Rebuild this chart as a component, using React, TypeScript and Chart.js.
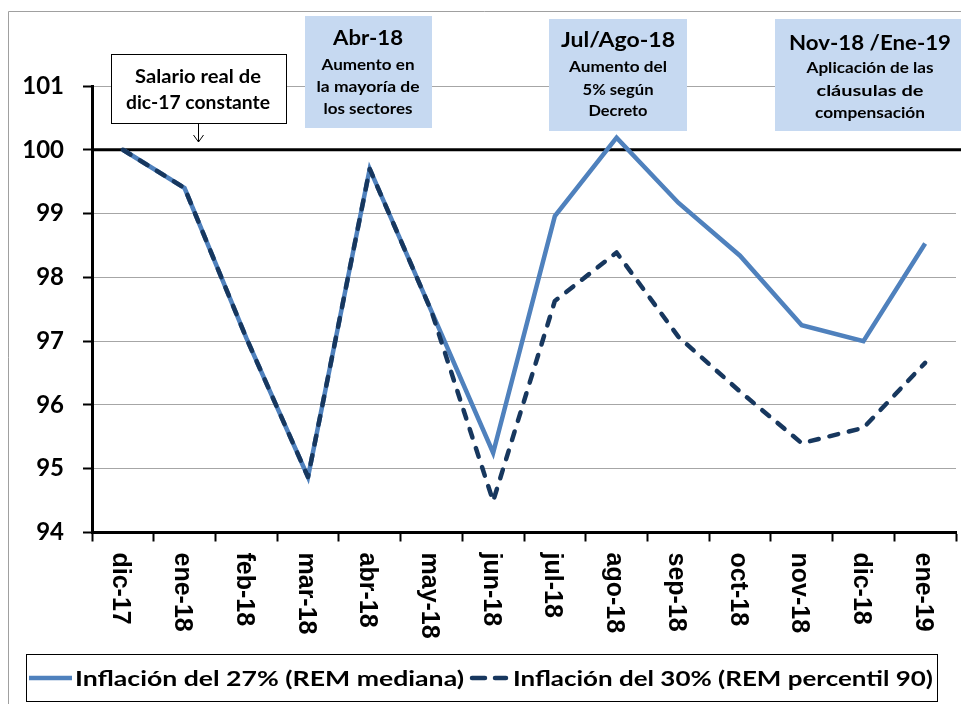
import React, { useEffect, useRef } from "react";
import { Chart, registerables } from "chart.js";

Chart.register(...registerables);

const categories = [
  "dic-17", "ene-18", "feb-18", "mar-18", "abr-18", "may-18", "jun-18",
  "jul-18", "ago-18", "sep-18", "oct-18", "nov-18", "dic-18", "ene-19",
];
const inflacion27 = [100.0, 99.4, 97.05, 94.87, 99.7, 97.47, 95.25, 98.96, 100.19, 99.17, 98.34, 97.25, 97.0, 98.53];
const inflacion30 = [100.0, 99.4, 97.05, 94.87, 99.7, 97.47, 94.49, 97.63, 98.39, 97.07, 96.21, 95.4, 95.64, 96.66];
const seriesLabels = ["Inflación del 27% (REM mediana)", "Inflación del 30% (REM percentil 90)"];
const yMin = 94;
const yMax = 101;
const yStep = 1;
const referenceLevel = 100;

const SOLID = "#4F81BD";
const NAVY = "#17375E";
const BOX = "#C6D9F1";
const CAL = "Lato, 'Open Sans', sans-serif";

function fitText(ctx: CanvasRenderingContext2D, text: string, x: number, y: number, size: number, width: number, align: "center" | "left" = "center") {
  ctx.save();
  ctx.font = `bold ${size}px ${CAL}`;
  ctx.fillStyle = "#000";
  ctx.textBaseline = "middle";
  ctx.textAlign = align;
  const w = ctx.measureText(text).width;
  const sx = width / w;
  ctx.translate(x, y);
  ctx.scale(sx, 1);
  ctx.fillText(text, 0, 0);
  ctx.restore();
}

const decorPlugin = {
  id: "decor",
  beforeDraw(chart: any) {
    const ctx = chart.ctx as CanvasRenderingContext2D;
    ctx.save();
    ctx.strokeStyle = "#A0A0A0";
    ctx.lineWidth = 1;
    ctx.beginPath();
    ctx.moveTo(8.5, 704);
    ctx.lineTo(8.5, 11.5);
    ctx.lineTo(961, 11.5);
    ctx.stroke();
    ctx.restore();
  },
  beforeDatasetsDraw(chart: any) {
    const ctx = chart.ctx as CanvasRenderingContext2D;
    const y = chart.scales.y.getPixelForValue(referenceLevel);
    ctx.save();
    ctx.strokeStyle = "#000";
    ctx.lineWidth = 3;
    ctx.beginPath();
    ctx.moveTo(chart.chartArea.left, y);
    ctx.lineTo(961, y);
    ctx.stroke();
    ctx.restore();
  },
  afterDraw(chart: any) {
    const ctx = chart.ctx as CanvasRenderingContext2D;
    const xs = chart.scales.x;
    // rotated category labels (clockwise, reading top to bottom)
    ctx.save();
    ctx.font = "bold 25px 'Liberation Sans', Arial, sans-serif";
    ctx.fillStyle = "#000";
    ctx.textAlign = "left";
    ctx.textBaseline = "alphabetic";
    categories.forEach((c, i) => {
      const x = xs.getPixelForValue(i);
      ctx.save();
      ctx.translate(x - 9.5, chart.chartArea.bottom + 20);
      ctx.rotate(Math.PI / 2);
      ctx.fillText(c, 0, 0);
      ctx.restore();
    });
    ctx.restore();

    // annotation 1
    ctx.save();
    ctx.fillStyle = "#fff";
    ctx.fillRect(111, 54, 175, 69);
    ctx.strokeStyle = "#000";
    ctx.lineWidth = 1;
    ctx.strokeRect(111.5, 54.5, 175, 69);
    ctx.beginPath();
    ctx.moveTo(198.5, 124);
    ctx.lineTo(198.5, 142);
    ctx.moveTo(193.5, 135);
    ctx.lineTo(198.5, 142);
    ctx.lineTo(203.5, 135);
    ctx.stroke();
    ctx.restore();
    fitText(ctx, "Salario real de", 198, 77, 18, 126);
    fitText(ctx, "dic-17 constante", 198, 103, 18, 144);

    // blue boxes
    ctx.save();
    ctx.fillStyle = BOX;
    ctx.fillRect(305, 16, 127, 112);
    ctx.fillRect(549, 19, 138, 112);
    ctx.fillRect(775, 19, 186, 112);
    ctx.restore();

    fitText(ctx, "Abr-18", 368, 38, 21, 70);
    fitText(ctx, "Aumento en", 368, 65, 15, 93);
    fitText(ctx, "la mayoría de", 368, 87, 15, 103);
    fitText(ctx, "los sectores", 368, 109, 15, 89);

    fitText(ctx, "Jul/Ago-18", 618, 40, 21, 114);
    fitText(ctx, "Aumento del", 618, 67, 15, 98);
    fitText(ctx, "5% según", 618, 90, 15, 71);
    fitText(ctx, "Decreto", 618, 111, 15, 59);

    fitText(ctx, "Nov-18 /Ene-19", 870, 43, 21, 162);
    fitText(ctx, "Aplicación de las", 870, 68, 15, 127);
    fitText(ctx, "cláusulas de", 870, 91, 15, 107);
    fitText(ctx, "compensación", 870, 113, 15, 110);

    // legend
    ctx.save();
    ctx.fillStyle = "#fff";
    ctx.fillRect(26, 654, 911, 47);
    ctx.strokeStyle = "#000";
    ctx.lineWidth = 1;
    ctx.strokeRect(26.5, 654.5, 911, 47);
    ctx.strokeStyle = SOLID;
    ctx.lineWidth = 4.5;
    ctx.beginPath();
    ctx.moveTo(29, 678);
    ctx.lineTo(72, 678);
    ctx.stroke();
    ctx.strokeStyle = NAVY;
    ctx.lineCap = "round";
    ctx.setLineDash([13, 10]);
    ctx.beginPath();
    ctx.moveTo(472, 678);
    ctx.lineTo(506, 678);
    ctx.stroke();
    ctx.restore();
    fitText(ctx, seriesLabels[0], 75, 679, 21, 389, "left");
    fitText(ctx, seriesLabels[1], 513, 679, 21, 420, "left");
  },
};

export default function App() {
  const ref = useRef<HTMLCanvasElement | null>(null);
  useEffect(() => {
    if (!ref.current) return;
    const chart = new Chart(ref.current, {
      type: "line",
      data: {
        labels: categories,
        datasets: [
          {
            label: seriesLabels[0],
            data: inflacion27,
            borderColor: SOLID,
            backgroundColor: SOLID,
            borderWidth: 4.5,
            pointRadius: 0,
            tension: 0,
            borderJoinStyle: "miter",
            borderCapStyle: "butt",
            order: 2,
          },
          {
            label: seriesLabels[1],
            data: inflacion30,
            borderColor: NAVY,
            backgroundColor: NAVY,
            borderWidth: 4.5,
            borderDash: [9, 11],
            borderCapStyle: "round",
            borderJoinStyle: "round",
            pointRadius: 0,
            tension: 0,
            order: 1,
          },
        ],
      },
      options: {
        animation: false,
        responsive: true,
        maintainAspectRatio: false,
        layout: { padding: { top: 86, right: 5, bottom: 0, left: 0 } },
        plugins: {
          legend: { display: false },
          tooltip: { enabled: false },
          title: { display: false },
        },
        scales: {
          x: {
            type: "category",
            offset: true,
            grid: {
              display: true,
              drawOnChartArea: false,
              drawTicks: true,
              tickLength: 9,
              tickColor: "#000",
              tickWidth: 2,
              offset: true,
            },
            border: { display: true, color: "#000", width: 3 },
            ticks: { display: false },
            afterFit: (s: any) => {
              s.height = 704 - 532.5;
            },
          },
          y: {
            min: yMin,
            max: yMax,
            ticks: {
              stepSize: yStep,
              color: "#000",
              font: { family: CAL, weight: "bold", size: 24 },
              padding: 19,
            },
            grid: {
              color: "#A6A6A6",
              lineWidth: 1,
              tickColor: "#000",
              tickWidth: 2,
              tickLength: 9,
            },
            border: { display: true, color: "#000", width: 3 },
            afterFit: (s: any) => {
              s.width = 92;
            },
          },
        },
      },
      plugins: [decorPlugin],
    } as any);
    return () => chart.destroy();
  }, []);
  return (
    <div style={{ position: "absolute", left: 0, top: 0, width: 961, height: 704, background: "#fff" }}>
      <canvas ref={ref} style={{ display: "block" }} />
    </div>
  );
}
